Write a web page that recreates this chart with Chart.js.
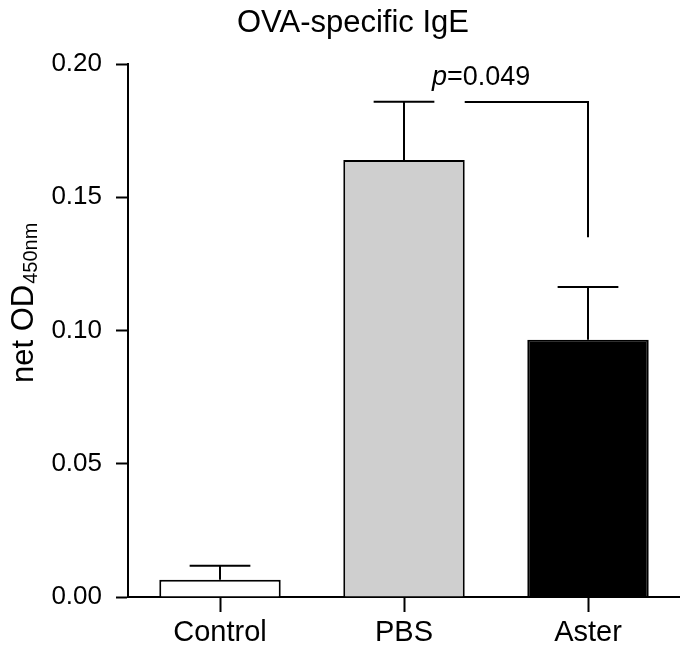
<!DOCTYPE html>
<html>
<head>
<meta charset="utf-8">
<script src="https://cdn.jsdelivr.net/npm/chart.js@4.4.0/dist/chart.umd.min.js"></script>
<style>
  html, body { margin: 0; padding: 0; background: #fff; }
</style>
</head>
<body>
<canvas id="grafica" width="680" height="646"></canvas>
<script>
/* ===============================
   DATOS
=============================== */
const categorias = ["Control", "PBS", "Aster"];
const medias = [0.0065, 0.164, 0.0965];
const errores = [0.0052, 0.0218, 0.0198];
const rellenos = ["#ffffff", "#cfcfcf", "#000000"];
const ticksY = [0, 0.05, 0.10, 0.15, 0.20];
const pValor = "0.049";
const corchete = [0.1857, 0.135]; // altura del corchete, punta sobre Aster

const FUENTE = "'Liberation Sans', Arial, Helvetica, sans-serif";

/* ===============================
   BARRAS DE ERROR + CORCHETE
=============================== */
const barrasError = {
  id: "barrasError",
  afterDatasetsDraw(chart) {
    const ctx = chart.ctx;
    const y = chart.scales.y;
    const barras = chart.getDatasetMeta(0).data;
    ctx.save();
    ctx.strokeStyle = "#000";
    ctx.lineWidth = 2;
    barras.forEach((bar, i) => {
      const top = y.getPixelForValue(medias[i] + errores[i]);
      const base = y.getPixelForValue(medias[i]);
      const mitad = bar.width / 4;
      ctx.beginPath();
      ctx.moveTo(bar.x, base);
      ctx.lineTo(bar.x, top);
      ctx.moveTo(bar.x - mitad, top);
      ctx.lineTo(bar.x + mitad, top);
      ctx.stroke();
    });

    // corchete PBS - Aster
    const pbs = barras[1], aster = barras[2];
    const yc = y.getPixelForValue(corchete[0]);
    const yf = y.getPixelForValue(corchete[1]);
    ctx.beginPath();
    ctx.moveTo(pbs.x + pbs.width / 2, yc);
    ctx.lineTo(aster.x, yc);
    ctx.lineTo(aster.x, yf);
    ctx.stroke();

    // texto p
    ctx.fillStyle = "#000";
    ctx.textBaseline = "alphabetic";
    ctx.textAlign = "left";
    let x = pbs.x + 28;
    ctx.font = "italic 27px " + FUENTE;
    ctx.fillText("p", x, yc - 17);
    x += ctx.measureText("p").width;
    ctx.font = "27px " + FUENTE;
    ctx.fillText("=" + pValor, x, yc - 17);
    ctx.restore();
  },
  afterDraw(chart) {
    const ctx = chart.ctx;
    ctx.save();
    ctx.fillStyle = "#000";
    // titulo
    ctx.font = "31px " + FUENTE;
    ctx.textAlign = "center";
    ctx.textBaseline = "alphabetic";
    ctx.fillText("OVA-specific IgE", 353, 32);

    // etiqueta eje Y con subindice
    ctx.translate(33, 383);
    ctx.rotate(-Math.PI / 2);
    ctx.textAlign = "left";
    ctx.font = "31px " + FUENTE;
    ctx.fillText("net OD", 0, 0);
    const w = ctx.measureText("net OD").width;
    ctx.font = "20px " + FUENTE;
    ctx.fillText("450nm", w + 1, 4);
    ctx.restore();
  }
};

/* ===============================
   GRAFICA
=============================== */
new Chart(document.getElementById("grafica"), {
  type: "bar",
  data: {
    labels: categorias,
    datasets: [{
      data: medias,
      backgroundColor: rellenos,
      borderColor: "#000",
      borderWidth: 2,
      barPercentage: 0.66,
      categoryPercentage: 1
    }]
  },
  options: {
    responsive: false,
    animation: false,
    devicePixelRatio: 1,
    layout: { padding: { top: 64, right: 0, left: 0, bottom: 0 } },
    plugins: {
      legend: { display: false },
      tooltip: { enabled: false }
    },
    scales: {
      y: {
        min: 0,
        max: 0.2,
        afterBuildTicks: s => { s.ticks = ticksY.map(v => ({ value: v })); },
        afterFit: s => { s.width = 128; },
        ticks: {
          callback: v => Number(v).toFixed(2),
          font: { family: FUENTE, size: 26 },
          color: "#000",
          padding: 14
        },
        grid: { drawOnChartArea: false, tickLength: 12, tickColor: "#000", tickWidth: 2 },
        border: { color: "#000", width: 2 }
      },
      x: {
        offset: true,
        afterFit: s => { s.height = 49; },
        ticks: {
          font: { family: FUENTE, size: 29 },
          color: "#000",
          padding: 4,
          maxRotation: 0
        },
        grid: { offset: false, drawOnChartArea: false, tickLength: 15, tickColor: "#000", tickWidth: 2 },
        border: { color: "#000", width: 2 }
      }
    }
  },
  plugins: [barrasError]
});
</script>
</body>
</html>
